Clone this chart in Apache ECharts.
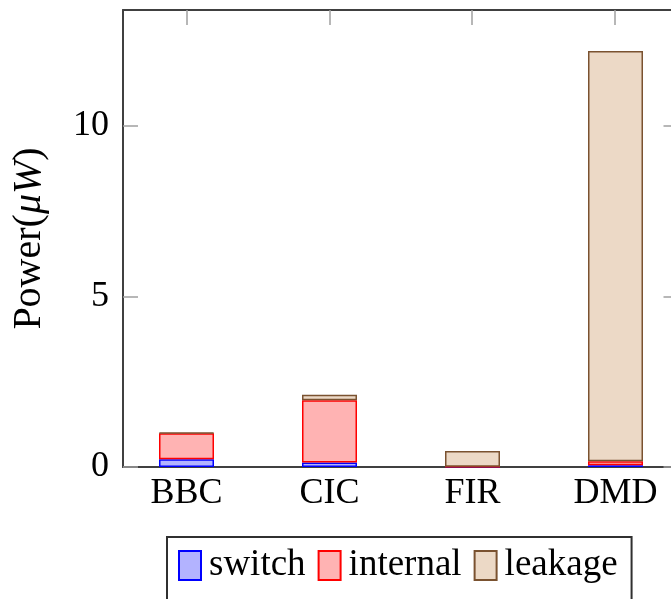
<!DOCTYPE html>
<html><head><meta charset="utf-8">
<script src="https://cdn.jsdelivr.net/npm/echarts@6/dist/echarts.min.js"></script>
<style>html,body{margin:0;padding:0;background:#fff}#c{width:671px;height:599px}</style>
</head><body><div id="c"></div>
<script>
const categories = ['BBC', 'CIC', 'FIR', 'DMD'];
const switchPower = [0.23, 0.13, 0.01, 0.05];
const internalPower = [0.76, 1.83, 0, 0.12];
const leakagePower = [0.02, 0.16, 0.46, 12.03];
const yTicks = [0, 5, 10];

const FONT = 'Liberation Serif';
const catIdx = categories.map((c, i) => i);
const axisLine = { show: true, onZero: false, lineStyle: { color: '#404040', width: 2 } };
const tickStyle = { color: '#a0a0a0', width: 1.5 };
const YMAX = 13.4;

const chart = echarts.init(document.getElementById('c'), null, { renderer: 'canvas' });
chart.setOption({
  backgroundColor: '#ffffff',
  animation: false,
  grid: [
    { left: 123, top: 10, width: 555.5, height: 457, containLabel: false, outerBoundsMode: 'none' },
    { left: 115, top: 10, width: 572, height: 457, containLabel: false, outerBoundsMode: 'none' }
  ],
  xAxis: [
    {
      gridIndex: 0, type: 'value', position: 'bottom', min: -0.444, max: 3.444,
      axisLine: axisLine, splitLine: { show: false },
      axisTick: { show: false }, axisLabel: { show: false }
    },
    {
      gridIndex: 0, type: 'value', position: 'top', min: -0.444, max: 3.444,
      axisLine: axisLine, splitLine: { show: false },
      axisTick: { show: true, inside: true, length: 15, customValues: catIdx, lineStyle: tickStyle },
      axisLabel: { show: false }
    },
    {
      gridIndex: 1, type: 'category', data: categories, position: 'bottom',
      boundaryGap: true,
      axisLine: { show: false }, axisTick: { show: false }, splitLine: { show: false },
      axisLabel: { margin: 9, fontFamily: FONT, fontSize: 36, color: '#000' }
    }
  ],
  yAxis: [
    {
      gridIndex: 0, type: 'value', position: 'left', min: 0, max: YMAX,
      axisLine: axisLine, splitLine: { show: false },
      axisTick: { show: true, inside: true, length: 15, customValues: yTicks, lineStyle: tickStyle },
      axisLabel: { customValues: yTicks, margin: 14, fontFamily: FONT, fontSize: 36, color: '#000' },
      name: '{a|Power(}{b|μW}{a|)}',
      nameLocation: 'middle', nameGap: 74, nameRotate: 90,
      nameTextStyle: {
        fontFamily: FONT, fontSize: 40, color: '#000',
        rich: {
          a: { fontFamily: FONT, fontSize: 40, color: '#000' },
          b: { fontFamily: FONT, fontSize: 40, color: '#000', fontStyle: 'italic' }
        }
      }
    },
    {
      gridIndex: 0, type: 'value', position: 'right', min: 0, max: YMAX,
      axisLine: axisLine, splitLine: { show: false },
      axisTick: { show: true, inside: true, length: 15, customValues: yTicks, lineStyle: tickStyle },
      axisLabel: { show: false }
    },
    {
      gridIndex: 1, type: 'value', min: 0, max: YMAX, show: false
    }
  ],
  legend: {
    left: 167, top: 537,
    orient: 'horizontal',
    padding: [10, 14, 40, 11],
    borderColor: '#303030', borderWidth: 2,
    itemWidth: 22, itemHeight: 29, itemGap: 12,
    icon: 'rect',
    textStyle: { fontFamily: FONT, fontSize: 37, color: '#000', padding: [0, 0, 0, 3] },
    data: ['switch', 'internal', 'leakage']
  },
  series: [
    {
      name: 'switch', type: 'bar', stack: 'p', barWidth: 55,
      xAxisIndex: 2, yAxisIndex: 2,
      itemStyle: { color: '#b3b3ff', borderColor: '#0000ff', borderWidth: 1.5 },
      data: switchPower
    },
    {
      name: 'internal', type: 'bar', stack: 'p', barWidth: 55,
      xAxisIndex: 2, yAxisIndex: 2,
      itemStyle: { color: '#ffb3b3', borderColor: '#ff0000', borderWidth: 1.5 },
      data: internalPower
    },
    {
      name: 'leakage', type: 'bar', stack: 'p', barWidth: 55,
      xAxisIndex: 2, yAxisIndex: 2,
      itemStyle: { color: '#ecd9c6', borderColor: '#7a5230', borderWidth: 1.5 },
      data: leakagePower
    }
  ]
});
</script>
</body></html>
